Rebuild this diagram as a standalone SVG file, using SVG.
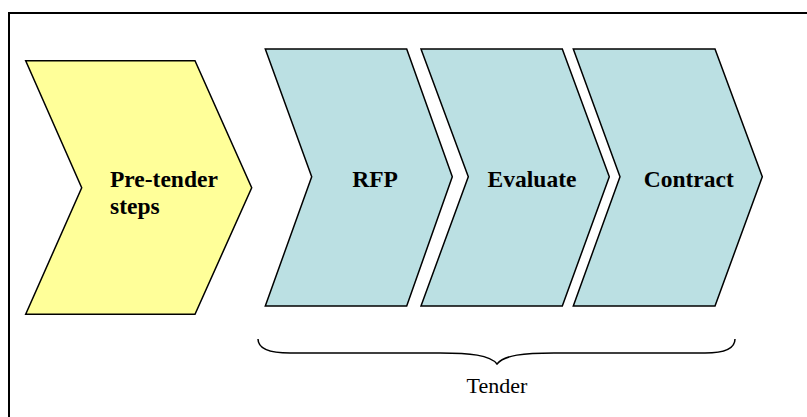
<svg xmlns="http://www.w3.org/2000/svg" width="807" height="417" viewBox="0 0 807 417">
  <style>
    .step { stroke: #000; stroke-width: 1.5; stroke-linejoin: miter; }
    .pre { fill: #FFFF99; }
    .tender { fill: #BBE0E3; }
    .label { font-family: "Liberation Serif", "Times New Roman", serif; font-weight: bold; font-size: 23.5px; fill: #000; }
    .caption { font-family: "Liberation Serif", "Times New Roman", serif; font-size: 22px; fill: #000; }
  </style>
  <rect width="807" height="417" fill="#fff"/>
  <!-- frame: only the top and left edges fall inside the canvas -->
  <rect x="9" y="13" width="830" height="440" fill="none" stroke="#000" stroke-width="2"/>

  <g id="pre-tender">
    <path class="step pre" d="M25.7,60.7 L195,60.7 L251.7,187.7 L195,314.3 L25.7,314.3 L81.7,187.7 Z"/>
    <text class="label" x="110" y="186.7">Pre-tender</text>
    <text class="label" x="110" y="213.5">steps</text>
  </g>

  <g id="rfp">
    <path class="step tender" d="M265.3,49 L406.7,49 L452.3,176.7 L406.7,306 L265.3,306 L311.7,176.7 Z"/>
    <text class="label" x="375" y="187.3" text-anchor="middle">RFP</text>
  </g>

  <g id="evaluate">
    <path class="step tender" d="M421,49 L562.3,49 L609.3,176.7 L562.3,306 L421,306 L468.3,176.7 Z"/>
    <text class="label" x="532" y="187.3" text-anchor="middle">Evaluate</text>
  </g>

  <g id="contract">
    <path class="step tender" d="M573.3,49 L715,49 L762.3,176.7 L715,306 L573.3,306 L620,176.7 Z"/>
    <text class="label" x="688.7" y="187.3" text-anchor="middle">Contract</text>
  </g>

  <g id="connectors">
    <!-- curly brace grouping the tender steps -->
    <path d="M258,339 C258,348 268,353 290,353 L440,353 C470,353 490,355 497,364 C504,355 524,353 554,353 L705,353 C727,353 735,348 735,339" fill="none" stroke="#000" stroke-width="1.5"/>
  </g>

  <g id="tender-label">
    <text class="caption" x="497" y="393" text-anchor="middle">Tender</text>
  </g>
</svg>
